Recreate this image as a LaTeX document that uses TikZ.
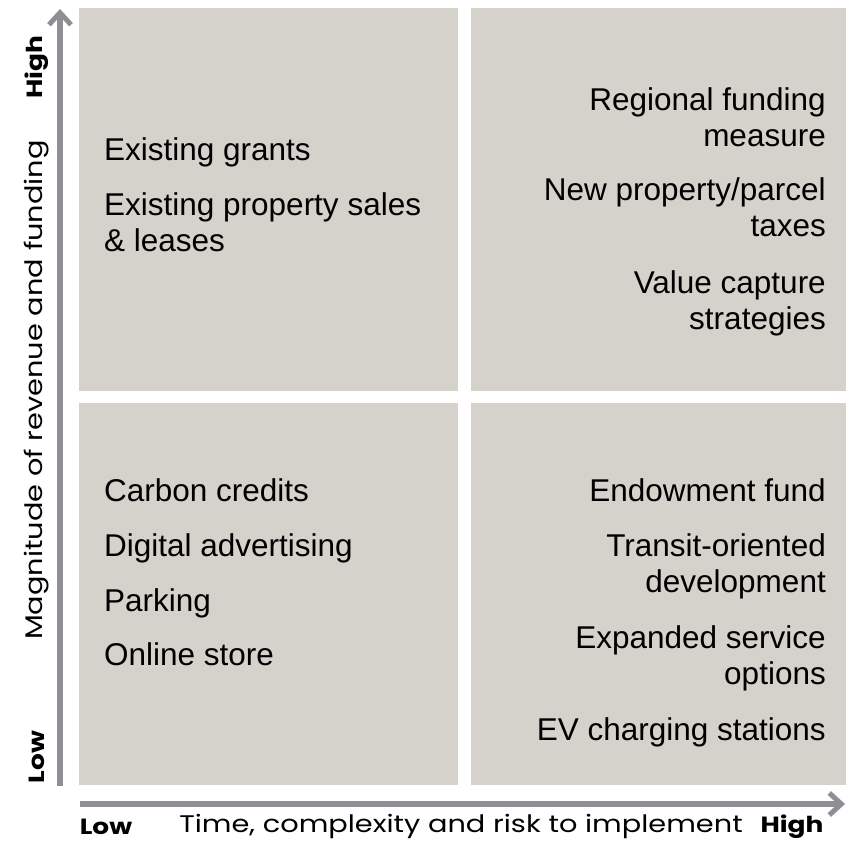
\documentclass[tikz,border=0pt]{standalone}
\usepackage{fontspec}
\setmainfont{Liberation Sans}
\newfontfamily\axisfont[FakeStretch=1.2]{Poppins}
\usetikzlibrary{arrows.meta}
\definecolor{boxfill}{HTML}{D5D1CB}
\definecolor{axisgray}{HTML}{8D8F93}
\tikzset{
  quad/.style={fill=boxfill, draw=none},
  axisline/.style={draw=axisgray, line width=5.5pt, -{Straight Barb[length=12pt,width=22pt,line width=5pt]}},
  itemL/.style={anchor=north west, inner sep=0pt, align=left, font=\fontsize{31.5}{36}\selectfont},
  itemR/.style={anchor=north east, inner sep=0pt, align=right, font=\fontsize{31.5}{36}\selectfont},
  axlab/.style={inner sep=0pt, font=\axisfont\fontsize{24}{27}\selectfont},
  axend/.style={inner sep=0pt, font=\axisfont\bfseries\fontsize{22}{25}\selectfont},
}
\begin{document}
\begin{tikzpicture}[x=1pt,y=-1pt]
\useasboundingbox (0,0) rectangle (846,841);
% quadrants
\fill[quad] (79,8) rectangle (458,391);
\fill[quad] (471,8) rectangle (846,391);
\fill[quad] (79,403) rectangle (458,785);
\fill[quad] (471,403) rectangle (846,785);
% axes
\coordinate (yb) at (60,786);
\coordinate (yt) at (60,9);
\coordinate (xl) at (80,804);
\coordinate (xr) at (845,804);
\draw[axisline] (yb) -- (yt);
\draw[axisline] (xl) -- (xr);
% axis labels
\node[axend, rotate=90] (yhigh) at (37,67) {High};
\node[axend, rotate=90] (ylow) at (37,757) {Low};
\node[axlab, rotate=90] (ytitle) at (37,390) {Magnitude of revenue and funding};
\node[axend] (xlow) at (106,827) {Low};
\node[axlab] (xtitle) at (461,826) {Time, complexity and risk to implement};
\node[axend] (xhigh) at (792,827) {High};
% top-left
\node[itemL] (tl1) at (104,137) {Existing grants};
\node[itemL] (tl2) at (104,192) {Existing property sales\\\& leases};
% top-right
\node[itemR] (tr1) at (826,87) {Regional funding\\measure};
\node[itemR] (tr2) at (826,177) {New property/parcel\\taxes};
\node[itemR] (tr3) at (826,270) {Value capture\\strategies};
% bottom-left
\node[itemL] (bl1) at (104,478) {Carbon credits};
\node[itemL] (bl2) at (104,533) {Digital advertising};
\node[itemL] (bl3) at (104,588) {Parking};
\node[itemL] (bl4) at (104,642) {Online store};
% bottom-right
\node[itemR] (br1) at (826,478) {Endowment fund};
\node[itemR] (br2) at (826,533) {Transit-oriented\\development};
\node[itemR] (br3) at (826,625) {Expanded service\\options};
\node[itemR] (br4) at (826,717) {EV charging stations};
\end{tikzpicture}
\end{document}
